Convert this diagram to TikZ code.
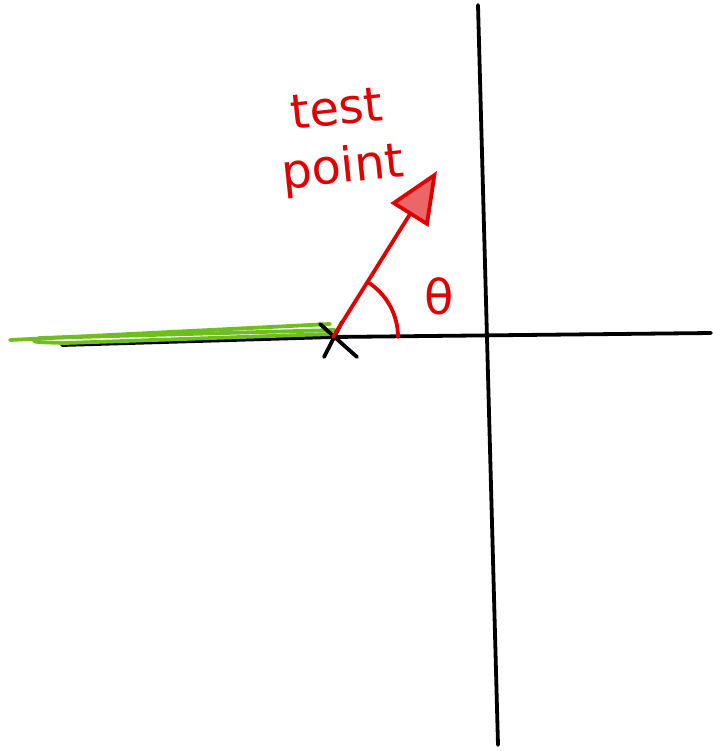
\documentclass[tikz,border=0pt]{standalone}
\usepackage{fontspec}
\setmainfont{DejaVu Sans}
\usetikzlibrary{arrows.meta, positioning}
\definecolor{penred}{RGB}{221,0,0}
\definecolor{pengreen}{RGB}{110,190,30}

\begin{document}
\begin{tikzpicture}[x=0.5pt, y=-0.5pt, line cap=round, line join=round,
  pen/.style={line width=1.9pt},
  redtext/.style={text=penred, inner sep=0pt}]
  \useasboundingbox (0,0) rectangle (713,751);

  % axes
  \coordinate (xl) at (62,345);
  \coordinate (xr) at (711,333);
  \coordinate (yt) at (478,5);
  \coordinate (yb) at (498,745);
  \coordinate (cross) at (333,337);
  \draw[pen] (xl) -- (cross) -- (xr);
  \draw[pen] (yt) -- (yb);

  % green ray to the left of the point
  \draw[pen, pengreen] (10,340) -- (330,324);
  \draw[pen, pengreen] (40,338) -- (335,330);
  \draw[pen, pengreen] (40,338) .. controls (30,342) .. (65,343) -- (330,334);

  % cross at the point
  \draw[pen] (320,324) -- (357,357);
  \draw[pen] (324,357) -- (342,322);

  % test vector and its angle
  \coordinate (tip) at (437,171);
  \draw[pen, penred, -{Triangle[open, fill=penred!60, length=26pt, width=22pt]}] (cross) -- (tip);
  \draw[pen, penred] (cross) ++(65,0) arc[start angle=0, end angle=-57, radius=65];

  % labels
  \node[redtext, font=\fontsize{24}{24}\selectfont] (theta) at (439,296) {θ};
  \node[redtext, align=center, rotate=6, font=\fontsize{24}{29}\selectfont] (testpt) at (340,142) {test\\point};
\end{tikzpicture}
\end{document}
